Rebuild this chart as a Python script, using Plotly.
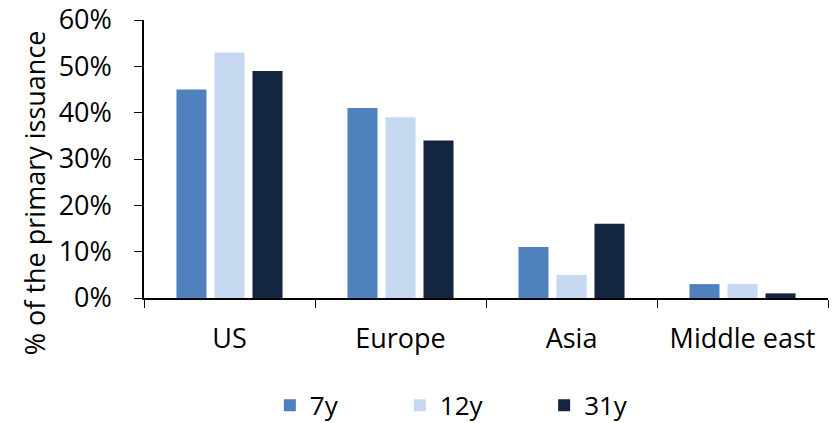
import plotly.graph_objects as go

categories = ["US", "Europe", "Asia", "Middle east"]
series_names = ["7y", "12y", "31y"]
v7 = [45, 41, 11, 3]
v12 = [53, 39, 5, 3]
v31 = [49, 34, 16, 1]
colors = ["#4F81BD", "#C6D9F1", "#13253F"]
legend_ids = ["legend", "legend2", "legend3"]
legend_x = [0.184, 0.374, 0.585]
y_title = "% of the primary issuance"

font_family = "'Open Sans', sans-serif"

fig = go.Figure()
for name, vals, col, lg in zip(series_names, [v7, v12, v31], colors, legend_ids):
    fig.add_trace(go.Bar(x=categories, y=vals, name=name, marker_color=col,
                         marker_line_width=0, legend=lg))

legend_common = dict(orientation="h", y=-0.386, yanchor="middle", xanchor="left",
                     font=dict(size=26), bgcolor="rgba(0,0,0,0)")

fig.add_annotation(text=y_title, textangle=-90, xref="paper", yref="paper",
                   x=-0.161, y=0.38, xanchor="center", yanchor="middle",
                   showarrow=False, font=dict(size=27))

fig.update_layout(
    width=835, height=423,
    margin=dict(l=144, r=7, t=20, b=125, autoexpand=False),
    paper_bgcolor="white", plot_bgcolor="white",
    barmode="group", bargap=0.333, bargroupgap=0.21,
    font=dict(family=font_family, size=27, color="black"),
    showlegend=True,
    legend=dict(x=legend_x[0], **legend_common),
    legend2=dict(x=legend_x[1], **legend_common),
    legend3=dict(x=legend_x[2], **legend_common),
    yaxis=dict(range=[0, 60], dtick=10, ticksuffix="%", showgrid=False,
               showline=True, linecolor="black", linewidth=1.5,
               ticks="outside", ticklen=8, tickcolor="black",
               zeroline=False, ticklabelstandoff=17, automargin=False),
    xaxis=dict(showline=True, linecolor="black", linewidth=1.5,
               ticks="outside", ticklen=8, tickcolor="black", tickson="boundaries",
               showgrid=False, ticklabelstandoff=16, automargin=False),
)

fig.write_html("out.html")
